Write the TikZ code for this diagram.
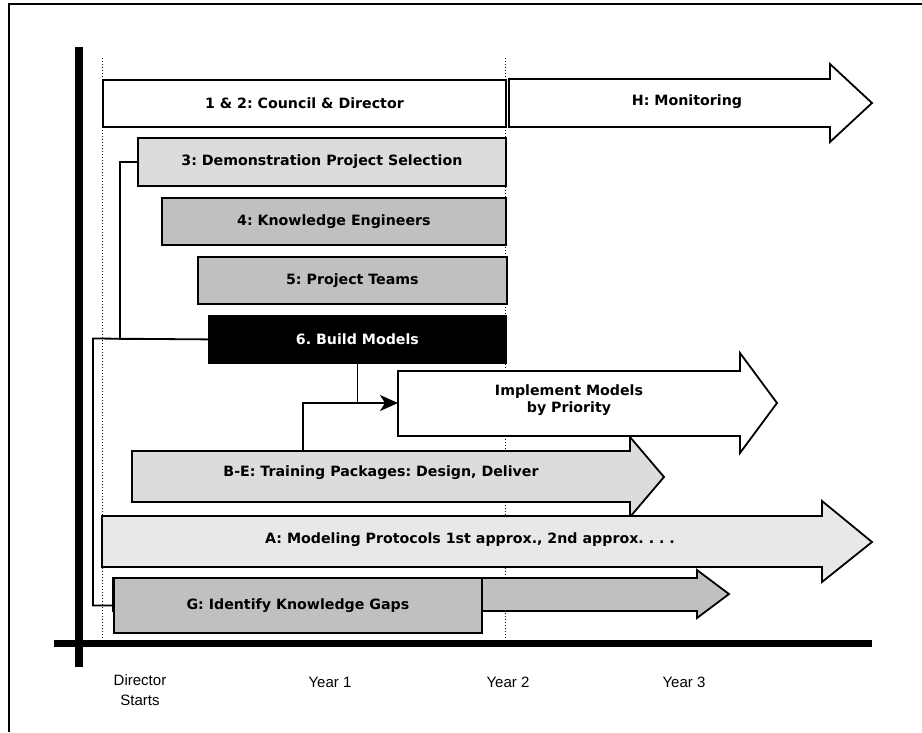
\documentclass[tikz,border=0pt]{standalone}
\usepackage{fontspec}
\setmainfont{DejaVu Sans}
\newfontfamily\axisfont{Liberation Sans}
\usetikzlibrary{arrows.meta}
\definecolor{lightfill}{HTML}{DCDCDC}
\definecolor{palefill}{HTML}{E8E8E8}
\definecolor{midfill}{HTML}{C0C0C0}
\newcommand\barfont{\frenchspacing\fontsize{14.2}{17}\selectfont\bfseries}
\newcommand\tickfont{\axisfont\fontsize{15}{20}\selectfont}

\begin{document}
\begin{tikzpicture}[x=1pt,y=-1pt,
  outline/.style={draw=black, line width=1.8pt, line join=miter},
  bar/.style={outline, inner sep=0pt, anchor=north west, font=\barfont, text=black},
  label/.style={font=\barfont, inner sep=0pt, align=center},
  conn/.style={draw=black, line width=1.8pt},
  guide/.style={draw=black, line width=0.9pt, dash pattern=on 1pt off 2pt},
  axisline/.style={draw=black, line cap=butt},
  tick/.style={font=\tickfont, align=center, inner sep=0pt}]

% canvas and outer frame
\useasboundingbox (0,0) rectangle (922,732);
\fill[white] (0,0) rectangle (922,732);
\draw[line width=1.2pt] (9,732) -- (9,4) -- (922,4);

% dotted year guides
\draw[guide] (102,58) -- (102,640);
\draw[guide] (505,58) -- (505,640);

% timeline axes
\draw[axisline, line width=8pt] (79,47) -- (79,667);
\draw[axisline, line width=7pt] (54,643.5) -- (872,643.5);

% phase boxes
\node[bar, fill=white, minimum width=403pt, minimum height=47pt] (b12) at (102,79) {1 \& 2: Council \& Director};
\node[bar, fill=lightfill, minimum width=368pt, minimum height=48pt] (b3) at (137,137) {3: Demonstration Project Selection};
\node[bar, fill=midfill, minimum width=344pt, minimum height=47pt] (b4) at (161,197) {4: Knowledge Engineers};
\node[bar, fill=midfill, minimum width=309pt, minimum height=47pt] (b5) at (197,256) {5: Project Teams};
\node[bar, fill=black, text=white, minimum width=297pt, minimum height=47pt] (b6) at (208,315) {6. Build Models};

% monitoring arrow
\draw[outline, fill=white] (509,79) -- (830,79) -- (830,64) -- (872,103) -- (830,142) -- (830,127) -- (509,127) -- cycle;
\node[label] (hmon) at (687,102) {H: Monitoring};

% training packages arrow
\draw[outline, fill=lightfill] (132,451) -- (630,451) -- (630,437) -- (664,477) -- (630,517) -- (630,502) -- (132,502) -- cycle;
\node[label] (betrain) at (381,473) {B-E: Training Packages: Design, Deliver};
\coordinate (be-top) at (303,451);

% implementation arrow
\draw[outline, fill=white] (398,371) -- (740,371) -- (740,353) -- (777,403) -- (740,453) -- (740,436) -- (398,436) -- cycle;
\node[label] (impl) at (569,400) {Implement Models\\by Priority};
\coordinate (impl-w) at (398,403);

% modeling protocols arrow
\draw[outline, fill=palefill] (102,516) -- (822,516) -- (822,501) -- (872,542) -- (822,582) -- (822,567) -- (102,567) -- cycle;
\node[label] (aproto) at (470,540) {A: Modeling Protocols 1st approx., 2nd approx. . . .};

% knowledge gaps arrow and box
\draw[outline, fill=midfill] (113,578) -- (697,578) -- (697,570) -- (729,594) -- (697,618) -- (697,611) -- (113,611) -- cycle;
\node[bar, fill=midfill, minimum width=368pt, minimum height=55pt] (g) at (113,577) {G: Identify Knowledge Gaps};

% connectors
\coordinate (gbend) at (93,338.5);
\coordinate (join) at (356.5,403);
\draw[conn] (b3.west) -- ++(-17,0) |- (b6.west);
\draw[conn] (b6.west) -- (gbend) |- (g.west);
\draw[conn, -{Stealth[length=18pt, width=16pt, inset=5pt]}] (b6.south) |- (impl-w);
\draw[conn] (be-top) |- (join);

% time labels
\node[tick] (t0) at (140,690) {Director\\Starts};
\node[tick] (t1) at (330,682) {Year 1};
\node[tick] (t2) at (508,682) {Year 2};
\node[tick] (t3) at (684,682) {Year 3};
\end{tikzpicture}
\end{document}
